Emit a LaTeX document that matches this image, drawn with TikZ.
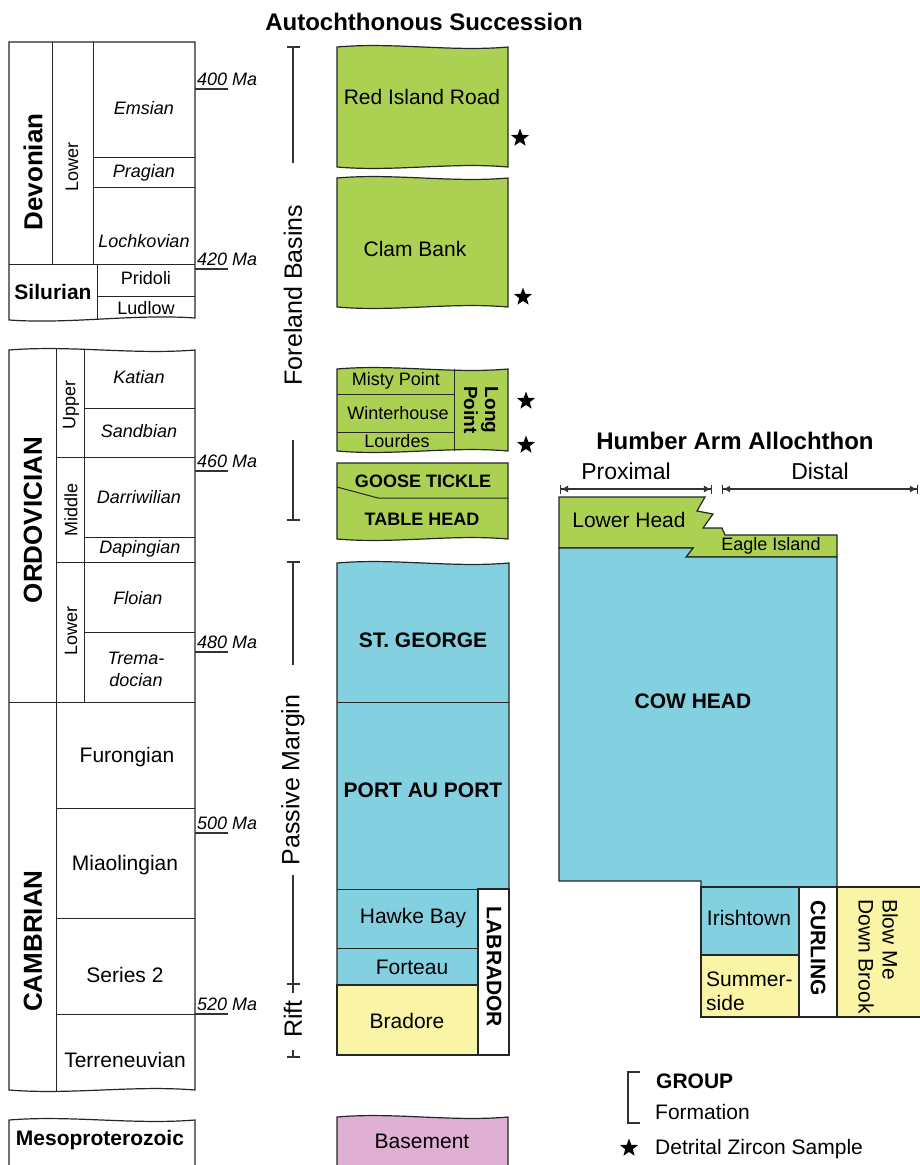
\documentclass[tikz,border=0pt]{standalone}
\usepackage{fontspec}
\setmainfont{Liberation Sans}
\usetikzlibrary{shapes.geometric, arrows.meta, calc}
\definecolor{cGreen}{RGB}{172,209,82}
\definecolor{cBlue}{RGB}{131,208,224}
\definecolor{cYellow}{RGB}{250,244,166}
\definecolor{cPink}{RGB}{223,176,211}
\newcommand{\fsz}[1]{\fontsize{#1}{#1}\selectfont}

\begin{document}
\begin{tikzpicture}[x=1pt, y=-1pt,
            bx/.style={draw=black!85, line width=1.2pt},
            ln/.style={draw=black!85, line width=1pt},
            tk/.style={draw=black!80, line width=1.1pt},
            lbl/.style={inner sep=0pt, font=\fsz{21}},
            sm/.style={inner sep=0pt, font=\fsz{18}},
            stg/.style={inner sep=0pt, font=\fsz{18}\itshape},
            per/.style={inner sep=0pt, font=\fsz{26}\bfseries, rotate=90},
            grp/.style={inner sep=0pt, font=\fsz{21}\bfseries},
            ma/.style={inner sep=0pt, font=\fsz{18}\itshape, anchor=base west},
            zs/.style={star, star points=5, star point ratio=2.4, fill=black, inner sep=0pt, minimum size=19pt},
            arr/.style={{Bar[width=9pt]Latex[length=7pt,width=7pt]}-{Latex[length=7pt,width=7pt]Bar[width=9pt]}},
            wv/.style={to path={.. controls ($(\tikztostart)!0.33!(\tikztotarget)+(0,-5)$) and ($(\tikztostart)!0.67!(\tikztotarget)+(0,5)$) .. (\tikztotarget)}}]
            \useasboundingbox (0,0) rectangle (919,1165);
            % time scale
            \filldraw[bx, fill=white] (9,42) -- (195,42) -- (195,318) to[wv] (9,320) -- cycle;
            \draw[ln] (52,42) -- (52,264) (93,42) -- (93,264) (93,157) -- (195,157) (93,187) -- (195,187)
                      (9,264) -- (195,264) (97,264) -- (97,320) (97,296) -- (195,296);
            \node[per] (dev) at (33,172) {Devonian};
            \node[sm, rotate=90] (dlo) at (72,167) {Lower};
            \node[stg] (ems) at (144,108) {Emsian};
            \node[stg] (pra) at (144,173) {Pragian};
            \node[stg] (loc) at (144,241) {Lochkovian};
            \node[grp] (sil) at (53,292) {Silurian};
            \node[sm] (pri) at (146,278) {Pridoli};
            \node[sm] (lud) at (146,308) {Ludlow};
            \filldraw[bx, fill=white] (9,350) to[wv] (195,350) -- (195,1090) to[wv] (9,1090) -- cycle;
            \draw[ln] (56,349) -- (56,1091) (84,349) -- (84,702) (84,408) -- (195,408) (56,457) -- (195,457)
                      (84,537) -- (195,537) (56,562) -- (195,562) (84,632) -- (195,632) (9,702) -- (195,702)
                      (56,808) -- (195,808) (56,918) -- (195,918) (56,1014) -- (195,1014);
            \node[per] (ord) at (33,520) {ORDOVICIAN};
            \node[sm, rotate=90] (oup) at (71,405) {Upper};
            \node[sm, rotate=90] (omi) at (71,510) {Middle};
            \node[sm, rotate=90] (olo) at (71,631) {Lower};
            \node[stg] (kat) at (139,377) {Katian};
            \node[stg] (san) at (139,431) {Sandbian};
            \node[stg] (dar) at (139,497) {Darriwilian};
            \node[stg] (dap) at (140,549) {Dapingian};
            \node[stg] (flo) at (138,598) {Floian};
            \node[stg, align=center] (tre) at (136,669) {Trema-\\[4pt]docian};
            \node[per] (cam) at (33,941) {CAMBRIAN};
            \node[lbl] (fur) at (127,757) {Furongian};
            \node[lbl] (mia) at (125,865) {Miaolingian};
            \node[lbl] (se2) at (125,975) {Series 2};
            \node[lbl] (ter) at (125,1060) {Terreneuvian};
            \draw[bx] (9,1166) -- (9,1120) to[wv] (195,1120) -- (195,1166);
            \node[grp] (mes) at (100,1140) {Mesoproterozoic};
            \draw[tk] (195,89) -- (228,89) (195,269) -- (228,269) (195,471) -- (228,471)
                      (195,652) -- (228,652) (195,833) -- (228,833) (195,1014) -- (228,1014);
            \node[ma] (m400) at (197,85) {400 Ma};
            \node[ma] (m420) at (197,265) {420 Ma};
            \node[ma] (m460) at (197,467) {460 Ma};
            \node[ma] (m480) at (197,648) {480 Ma};
            \node[ma] (m500) at (197,829) {500 Ma};
            \node[ma] (m520) at (197,1010) {520 Ma};
            % autochthon
            \node[grp, font=\fsz{24}\bfseries] (ttl) at (424,22) {Autochthonous Succession};
            \draw[tk] (287,47) -- (300,47) (293,47) -- (293,163) (293,440) -- (293,520) (287,520) -- (300,520);
            \draw[tk] (287,562) -- (300,562) (293,562) -- (293,665) (293,875) -- (293,993) (287,984) -- (300,984);
            \draw[tk] (293,1050) -- (293,1057) (287,1057) -- (300,1057);
            \node[lbl, font=\fsz{25}, rotate=90] (fore) at (293,295) {Foreland Basins};
            \node[lbl, font=\fsz{25}, rotate=90] (pasm) at (293,780) {Passive Margin};
            \node[lbl, font=\fsz{25}, rotate=90] (rift) at (293,1019) {Rift};
            \filldraw[bx, fill=cGreen] (337,47) to[wv] (508,47) -- (508,167) to[wv] (337,167) -- cycle;
            \node[lbl] (rir) at (422,97) {Red Island Road};
            \node[zs] (z1) at (520,138) {};
            \filldraw[bx, fill=cGreen] (337,178) to[wv] (508,178) -- (508,307) to[wv] (337,307) -- cycle;
            \node[lbl] (clm) at (415,249) {Clam Bank};
            \node[zs] (z2) at (523,297) {};
            \filldraw[bx, fill=cGreen] (337,369) to[wv] (508,369) -- (508,451) to[wv] (337,451) -- cycle;
            \draw[ln] (454,369) -- (454,451) (337,394) -- (454,394) (337,432) -- (454,432);
            \node[sm] (mst) at (396,381) {Misty Point};
            \node[sm] (wnt) at (398,413) {Winterhouse};
            \node[sm] (lrd) at (397,441) {Lourdes};
            \node[sm, font=\fsz{19}\bfseries, rotate=-90, align=center] (lpt) at (481,410) {Long\\[2pt]Point};
            \node[zs] (z3) at (526,401) {};
            \node[zs] (z4) at (526,445) {};
            \filldraw[bx, fill=cGreen] (337,463) -- (508,463) -- (508,539) to[wv] (337,539) -- cycle;
            \draw[ln] (337,487) -- (378,498) -- (508,498);
            \node[sm, font=\fsz{18}\bfseries] (gst) at (423,481) {GOOSE TICKLE};
            \node[sm, font=\fsz{18}\bfseries] (tbh) at (422,519) {TABLE HEAD};
            \filldraw[bx, fill=cBlue] (337,563) to[wv] (509,563) -- (509,1055) -- (337,1055) -- cycle;
            \filldraw[bx, fill=cYellow] (337,985) rectangle (478,1055);
            \filldraw[bx, fill=white] (478,889) rectangle (509,1055);
            \draw[ln] (337,702) -- (509,702) (337,889) -- (478,889) (337,948) -- (478,948);
            \node[grp] (stg) at (423,640) {ST. GEORGE};
            \node[grp] (pap) at (423,790) {PORT AU PORT};
            \node[lbl] (hwk) at (413,918) {Hawke Bay};
            \node[lbl] (frt) at (412,967) {Forteau};
            \node[lbl] (brd) at (407,1021) {Bradore};
            \node[grp, rotate=-90] (lab) at (494,967) {LABRADOR};
            \filldraw[bx, fill=cPink] (337,1166) -- (337,1117) to[wv] (508,1117) -- (508,1166);
            \node[lbl] (bsm) at (422,1141) {Basement};
            % allochthon
            \node[grp, font=\fsz{24}\bfseries] (hum) at (735,441) {Humber Arm Allochthon};
            \node[lbl, font=\fsz{23}] (prx) at (626,471) {Proximal};
            \node[lbl, font=\fsz{23}] (dst) at (820,471) {Distal};
            \coordinate (p1) at (560,489);
            \coordinate (p2) at (712,489);
            \coordinate (d1) at (722,489);
            \coordinate (d2) at (918,489);
            \draw[tk, arr] (p1) -- (p2);
            \draw[tk, arr] (d1) -- (d2);
            \filldraw[bx, fill=cGreen] (559,497) -- (705,497) -- (697,511) -- (713,514) -- (703,528) -- (722,528)
                      -- (725,535) -- (837,535) -- (837,557) -- (686,557) -- (693,548) -- (559,548) -- cycle;
            \filldraw[bx, fill=cBlue] (559,548) -- (693,548) -- (686,557) -- (837,557) -- (837,887)
                      -- (701,887) -- (701,881) -- (559,881) -- cycle;
            \node[lbl] (lwh) at (629,520) {Lower Head};
            \node[sm] (egl) at (771,546) {Eagle Island};
            \node[grp] (cow) at (693,701) {COW HEAD};
            \filldraw[bx, fill=cBlue] (701,887) rectangle (799,955);
            \filldraw[bx, fill=cYellow] (701,955) rectangle (799,1017);
            \filldraw[bx, fill=white] (799,887) rectangle (837,1017);
            \filldraw[bx, fill=cYellow] (837,887) rectangle (925,1017);
            \node[lbl] (irs) at (749,918) {Irishtown};
            \node[lbl, align=left, anchor=west] (smm) at (706,991) {Summer-\\[3pt]side};
            \node[grp, rotate=-90] (crl) at (818,948) {CURLING};
            \node[lbl, rotate=-90, align=left, anchor=north west] (bmd) at (898,899) {Blow Me\\[3pt]Down Brook};
            % legend
            \draw[tk, line width=1.4pt] (640,1072) -- (628,1072) -- (628,1123) -- (640,1123);
            \node[grp, anchor=west] (lgg) at (656,1081) {GROUP};
            \node[lbl, anchor=west] (lgf) at (655,1112) {Formation};
            \node[zs] (z5) at (629,1148) {};
            \node[lbl, anchor=west] (lgz) at (655,1149) {Detrital Zircon Sample};
        \end{tikzpicture}
\end{document}
